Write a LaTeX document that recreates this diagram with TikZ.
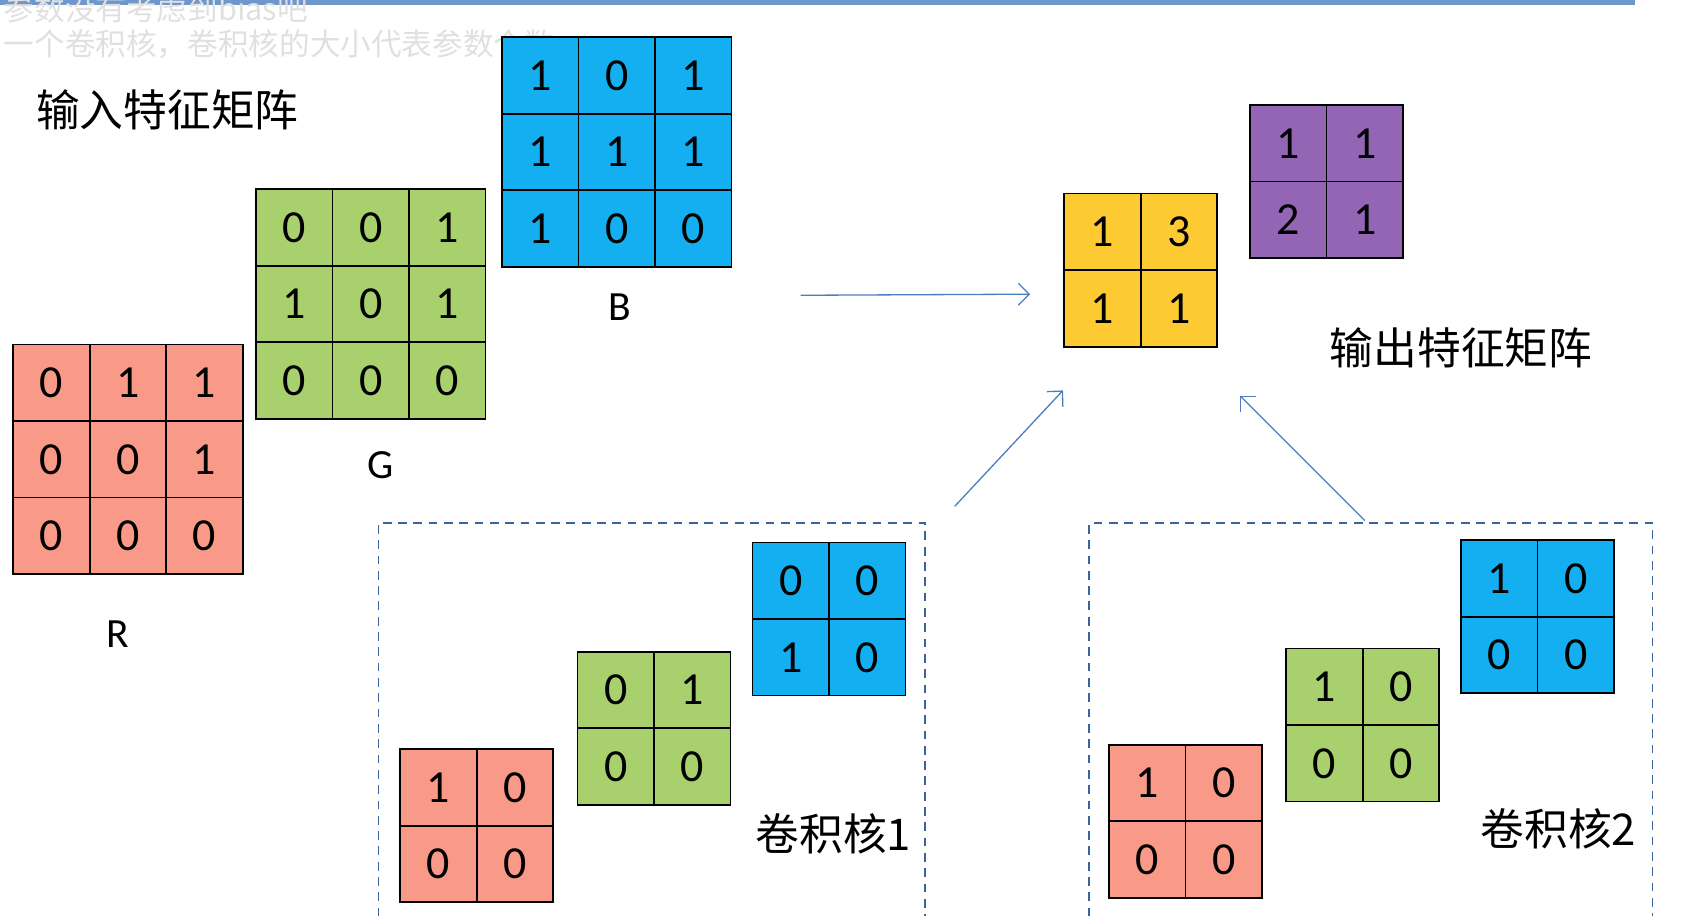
\documentclass[tikz,border=0pt]{standalone}
\usepackage{fontspec}
\setmainfont{Carlito}
\newfontfamily\cjk{Noto Sans CJK SC}
\usetikzlibrary{arrows.meta, positioning}
\definecolor{cred}{HTML}{F99A88}
\definecolor{cgreen}{HTML}{A8D06C}
\definecolor{cblue}{HTML}{14AFF1}
\definecolor{cyellow}{HTML}{FECA31}
\definecolor{cpurple}{HTML}{9465B5}
\definecolor{cline}{HTML}{4A7EC0}
\tikzset{
  cell/.style={draw=black, line width=1.6pt, minimum size=70pt, inner sep=0pt, font=\fontsize{42}{42}\selectfont},
  lbl/.style={font=\fontsize{38}{38}\selectfont},
  cjklbl/.style={font=\cjk\fontsize{40}{40}\selectfont},
  feed/.style={->, >={Straight Barb[length=10pt,width=20pt]}, draw=cline, line width=1.2pt},
  kbox/.style={draw=cline!80!black, dashed, line width=1.5pt, dash pattern=on 8pt off 6pt}
}
% grid of cells: prefix, colour, left, top, row/col/value list
\newcommand\mgrid[5]{%
  \foreach \r/\c/\v in {#5}
    \node[cell, fill=#2] (#1-\r\c) at (#3+70*\c+35, #4+70*\r+35) {\v};}
\begin{document}
\begin{tikzpicture}[x=1pt, y=-1pt]
  \useasboundingbox (0,0) rectangle (1560,838);
  % faded caption at the top
  \fill[cline!80] (0,0) rectangle (1495,5);
  \node[anchor=west, text=black!12, font=\cjk\fontsize{28}{28}\selectfont] (cap1) at (0,8) {参数没有考虑到bias吧};
  \node[anchor=west, text=black!12, font=\cjk\fontsize{28}{28}\selectfont] (cap2) at (0,40) {一个卷积核，卷积核的大小代表参数个数};

  % input
  \node[cjklbl] (inlbl) at (153,100) {输入特征矩阵};
  \mgrid{R}{cred}{12}{315}{0/0/0,0/1/1,0/2/1,1/0/0,1/1/0,1/2/1,2/0/0,2/1/0,2/2/0}
  \mgrid{G}{cgreen}{234}{173}{0/0/0,0/1/0,0/2/1,1/0/1,1/1/0,1/2/1,2/0/0,2/1/0,2/2/0}
  \mgrid{B}{cblue}{459}{34}{0/0/1,0/1/0,0/2/1,1/0/1,1/1/1,1/2/1,2/0/1,2/1/0,2/2/0}
  \node[lbl] (Rl) at (108,580) {R};
  \node[lbl] (Gl) at (348,425) {G};
  \node[lbl] (Bl) at (567,281) {B};

  % output
  \mgrid{Y}{cyellow}{973}{177}{0/0/1,0/1/3,1/0/1,1/1/1}
  \mgrid{P}{cpurple}{1143}{96}{0/0/1,0/1/1,1/0/2,1/1/1}
  \node[cjklbl] (outlbl) at (1336,318) {输出特征矩阵};

  % kernel 1
  \draw[kbox] (346,838) -- (346,478) -- (846,478) -- (846,838);
  \mgrid{KaR}{cred}{366}{685}{0/0/1,0/1/0,1/0/0,1/1/0}
  \mgrid{KaG}{cgreen}{528}{596}{0/0/0,0/1/1,1/0/0,1/1/0}
  \mgrid{KaB}{cblue}{688}{496}{0/0/0,0/1/0,1/0/1,1/1/0}
  \node[cjklbl] (ka) at (762,762) {卷积核1};

  % kernel 2
  \draw[kbox] (996,838) -- (996,478) -- (1511,478) -- (1511,838);
  \mgrid{KbR}{cred}{1014}{681}{0/0/1,0/1/0,1/0/0,1/1/0}
  \mgrid{KbG}{cgreen}{1176}{593}{0/0/1,0/1/0,1/0/0,1/1/0}
  \mgrid{KbB}{cblue}{1336}{494}{0/0/1,0/1/0,1/0/0,1/1/0}
  \node[cjklbl] (kb) at (1425,758) {卷积核2};

  % arrows
  \coordinate (a1s) at (732,270);
  \coordinate (a1e) at (942,269);
  \coordinate (a2s) at (873,463);
  \coordinate (a2e) at (972,357);
  \coordinate (a3s) at (1248,476);
  \coordinate (a3e) at (1134,362);
  \draw[feed] (a1s) -- (a1e);
  \draw[feed] (a2s) -- (a2e);
  \draw[feed] (a3s) -- (a3e);
\end{tikzpicture}
\end{document}
